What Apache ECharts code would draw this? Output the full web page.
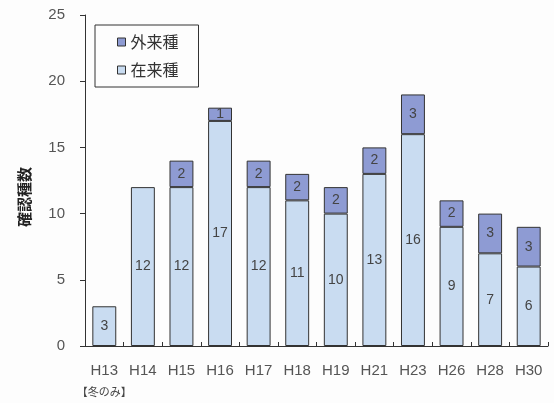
<!DOCTYPE html>
<html><head><meta charset="utf-8">
<script src="https://cdn.jsdelivr.net/npm/echarts@6/dist/echarts.min.js"></script>
<style>html,body{margin:0;padding:0;background:#fdfdfd}#c{width:554px;height:403px}</style>
</head><body><div id="c"></div>
<script>
const categories = ['H13','H14','H15','H16','H17','H18','H19','H21','H23','H26','H28','H30'];
const native = [3,12,12,17,12,11,10,13,16,9,7,6];
const exotic = [0,0,2,1,2,2,2,2,3,2,3,3];
const yTicks = [0,5,10,15,20,25];
const FONT = '"Liberation Sans","Noto Sans CJK JP",sans-serif';
const chart = echarts.init(document.getElementById('c'));
chart.setOption({
  backgroundColor:'#fdfdfd',
  animation:false,
  textStyle:{fontFamily:FONT},
  grid:{left:85,right:6,top:15,bottom:57},
  legend:{
    orient:'vertical', left:95, top:25,
    data:['外来種','在来種'],
    itemWidth:8, itemHeight:8, itemGap:12, itemStyle:{borderColor:'#333',borderWidth:1},
    borderColor:'#333', borderWidth:1, padding:[9,20,9,22],
    textStyle:{fontSize:16,color:'#333',fontFamily:'"Noto Sans CJK JP",sans-serif'},
    icon:'rect'
  },
  xAxis:{
    type:'category', data:categories,
    axisLine:{lineStyle:{color:'#333',width:1}},
    axisTick:{show:true,inside:true,length:4,interval:0,lineStyle:{color:'#333'}},
    axisLabel:{
      interval:0, hideOverlap:false,
      margin:12, color:'#555', fontSize:15,
      formatter:function(v){return v==='H13'?'{a|H13}\n{b|【冬のみ】}':'{a|'+v+'}';},
      rich:{a:{fontSize:15,color:'#555',fontFamily:FONT,lineHeight:25},
            b:{fontSize:11,color:'#444',fontFamily:'"Noto Sans CJK JP",sans-serif',lineHeight:18}}
    }
  },
  yAxis:{
    type:'value', min:yTicks[0], max:yTicks[yTicks.length-1], interval:5,
    axisLine:{show:true,lineStyle:{color:'#333'}},
    axisTick:{show:true,length:5,lineStyle:{color:'#333'}},
    splitLine:{show:false},
    axisLabel:{margin:20,fontSize:15,color:'#555'}
  },
  graphic:[{type:'text',x:24,y:197,rotation:Math.PI/2,
    style:{text:'確認種数',fill:'#222',
      font:'bold 15px "Noto Sans CJK JP",sans-serif',align:'center',verticalAlign:'middle'}}],
  series:[
    {name:'在来種',type:'bar',stack:'t',data:native,barWidth:'62%',
     itemStyle:{color:'#c9dcf1',borderColor:'#333',borderWidth:1},
     label:{show:true,position:'inside',fontSize:14,color:'#444'}},
    {name:'外来種',type:'bar',stack:'t',data:exotic.map(v=>v===0?null:v),barWidth:'62%',
     itemStyle:{color:'#8e9bd3',borderColor:'#333',borderWidth:1},
     label:{show:true,position:'inside',fontSize:14,color:'#444'}}
  ]
});
</script></body></html>
